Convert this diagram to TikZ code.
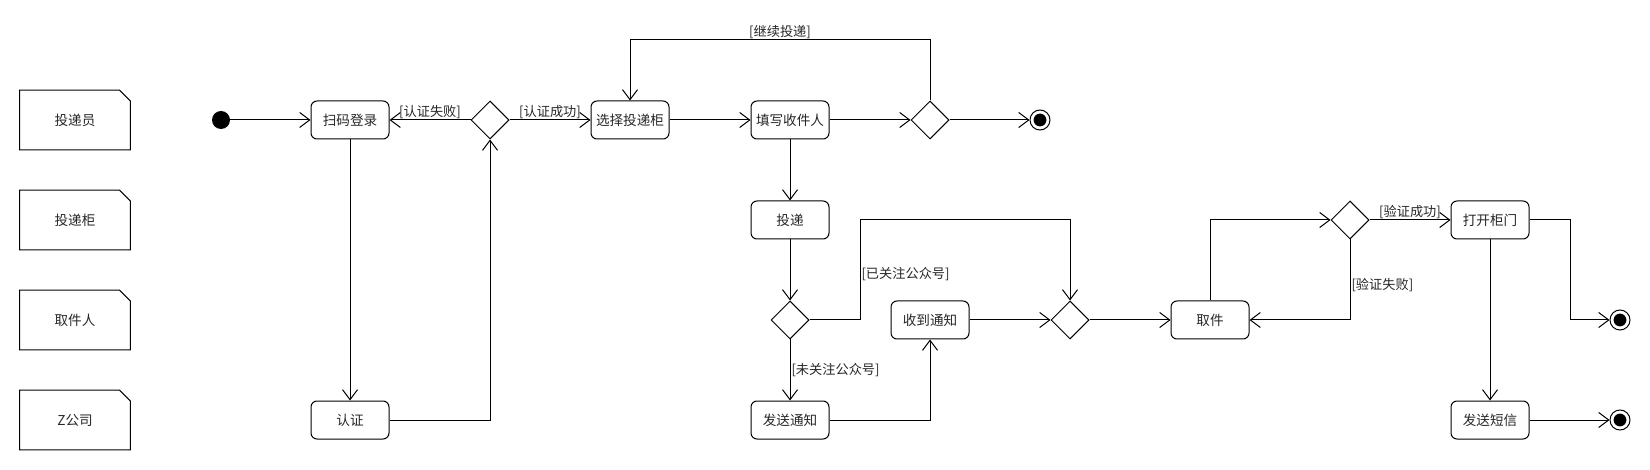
\documentclass[tikz,border=0pt]{standalone}
\usepackage{fontspec}
\setmainfont{Noto Sans CJK SC}
\usetikzlibrary{shapes.geometric,arrows.meta,calc}
\begin{document}
\begin{tikzpicture}[x=0.5pt,y=-0.5pt,
  every node/.style={font=\fontsize{6.8}{8}\selectfont, text=black!85},
  act/.style={draw, rounded corners=3pt, minimum width=39pt, minimum height=19pt, inner sep=0pt, line width=0.5pt},
  dec/.style={draw, diamond, minimum size=19pt, inner sep=0pt, line width=0.5pt},
  startnode/.style={circle, fill=black, minimum size=9pt, inner sep=0pt},
  endnode/.style={circle, draw, line width=0.5pt, minimum size=10pt, inner sep=0pt,
    path picture={\fill[black] (path picture bounding box.center) circle (3.2pt);}},
  notebox/.style={minimum width=55pt, minimum height=29.5pt, inner sep=0pt},
  arr/.style={-{Straight Barb[length=5pt,width=7.5pt,line width=0.5pt]}, line width=0.5pt},
  lbl/.style={font=\fontsize{6.6}{8}\selectfont, inner sep=0.5pt}
]
\useasboundingbox (0,0) rectangle (1650,470);

% notes
\node[notebox] (n1) at (75,120) {投递员};
\node[notebox] (n2) at (75,220) {投递柜};
\node[notebox] (n3) at (75,320) {取件人};
\node[notebox] (n4) at (75,420) {Z公司};
\foreach \n in {n1,n2,n3,n4}{
  \draw[line width=0.5pt] (\n.north west) -- ($(\n.north east)+(-11,0)$) -- ($(\n.north east)+(0,11)$) -- (\n.south east) -- (\n.south west) -- cycle;
}

% nodes
\node[startnode] (start) at (221,120) {};
\node[act] (scan) at (350,120) {扫码登录};
\node[dec] (d1) at (490,120) {};
\node[act] (select) at (630,120) {选择投递柜};
\node[act] (fill) at (790,120) {填写收件人};
\node[dec] (d2) at (930,120) {};
\node[endnode] (end1) at (1040,120) {};
\node[act] (auth) at (350,420) {认证};
\node[act] (deliver) at (790,220) {投递};
\node[dec] (d3) at (790,320) {};
\node[act] (notify) at (790,420) {发送通知};
\node[act] (recv) at (930,320) {收到通知};
\node[dec] (d4) at (1070,320) {};
\node[act] (pick) at (1210,320) {取件};
\node[dec] (d5) at (1350,220) {};
\node[act] (open) at (1490,220) {打开柜门};
\node[act] (sms) at (1490,420) {发送短信};
\node[endnode] (end2) at (1620,320) {};
\node[endnode] (end3) at (1620,420) {};

\coordinate (t1) at (930,40);
\coordinate (t2) at (630,40);
\coordinate (k1) at (860,320);
\coordinate (k2) at (860,220);
\coordinate (k3) at (1070,220);
\coordinate (k4) at (1570,220);

% edges
\draw[arr] (start) -- (scan);
\draw[arr] (scan) -- (auth);
\draw[arr] (auth.east) -| (d1.south);
\draw[arr] (d1.west) -- node[lbl, above]{[认证失败]} (scan.east);
\draw[arr] (d1.east) -- node[lbl, above]{[认证成功]} (select.west);
\draw[arr] (select) -- (fill);
\draw[arr] (fill) -- (d2);
\draw[arr] (d2) -- (end1);
\draw[arr] (d2.north) -- (t1) -- node[lbl, above]{[继续投递]} (t2) -- (select.north);
\draw[arr] (fill) -- (deliver);
\draw[arr] (deliver) -- (d3);
\draw[arr] (d3.east) -- (k1) -- node[lbl, right, pos=0.46]{[已关注公众号]} (k2) -- (k3) -- (d4.north);
\draw[arr] (d3.south) -- node[lbl, right]{[未关注公众号]} (notify.north);
\draw[arr] (notify.east) -| (recv.south);
\draw[arr] (recv) -- (d4);
\draw[arr] (d4) -- (pick);
\draw[arr] (pick.north) |- (d5.west);
\draw[arr] (d5.south) |- node[lbl, right, pos=0.28]{[验证失败]} (pick.east);
\draw[arr] (d5.east) -- node[lbl, above]{[验证成功]} (open.west);
\draw[arr] (open.east) -- (k4) |- (end2);
\draw[arr] (open) -- (sms);
\draw[arr] (sms) -- (end3);
\end{tikzpicture}
\end{document}
